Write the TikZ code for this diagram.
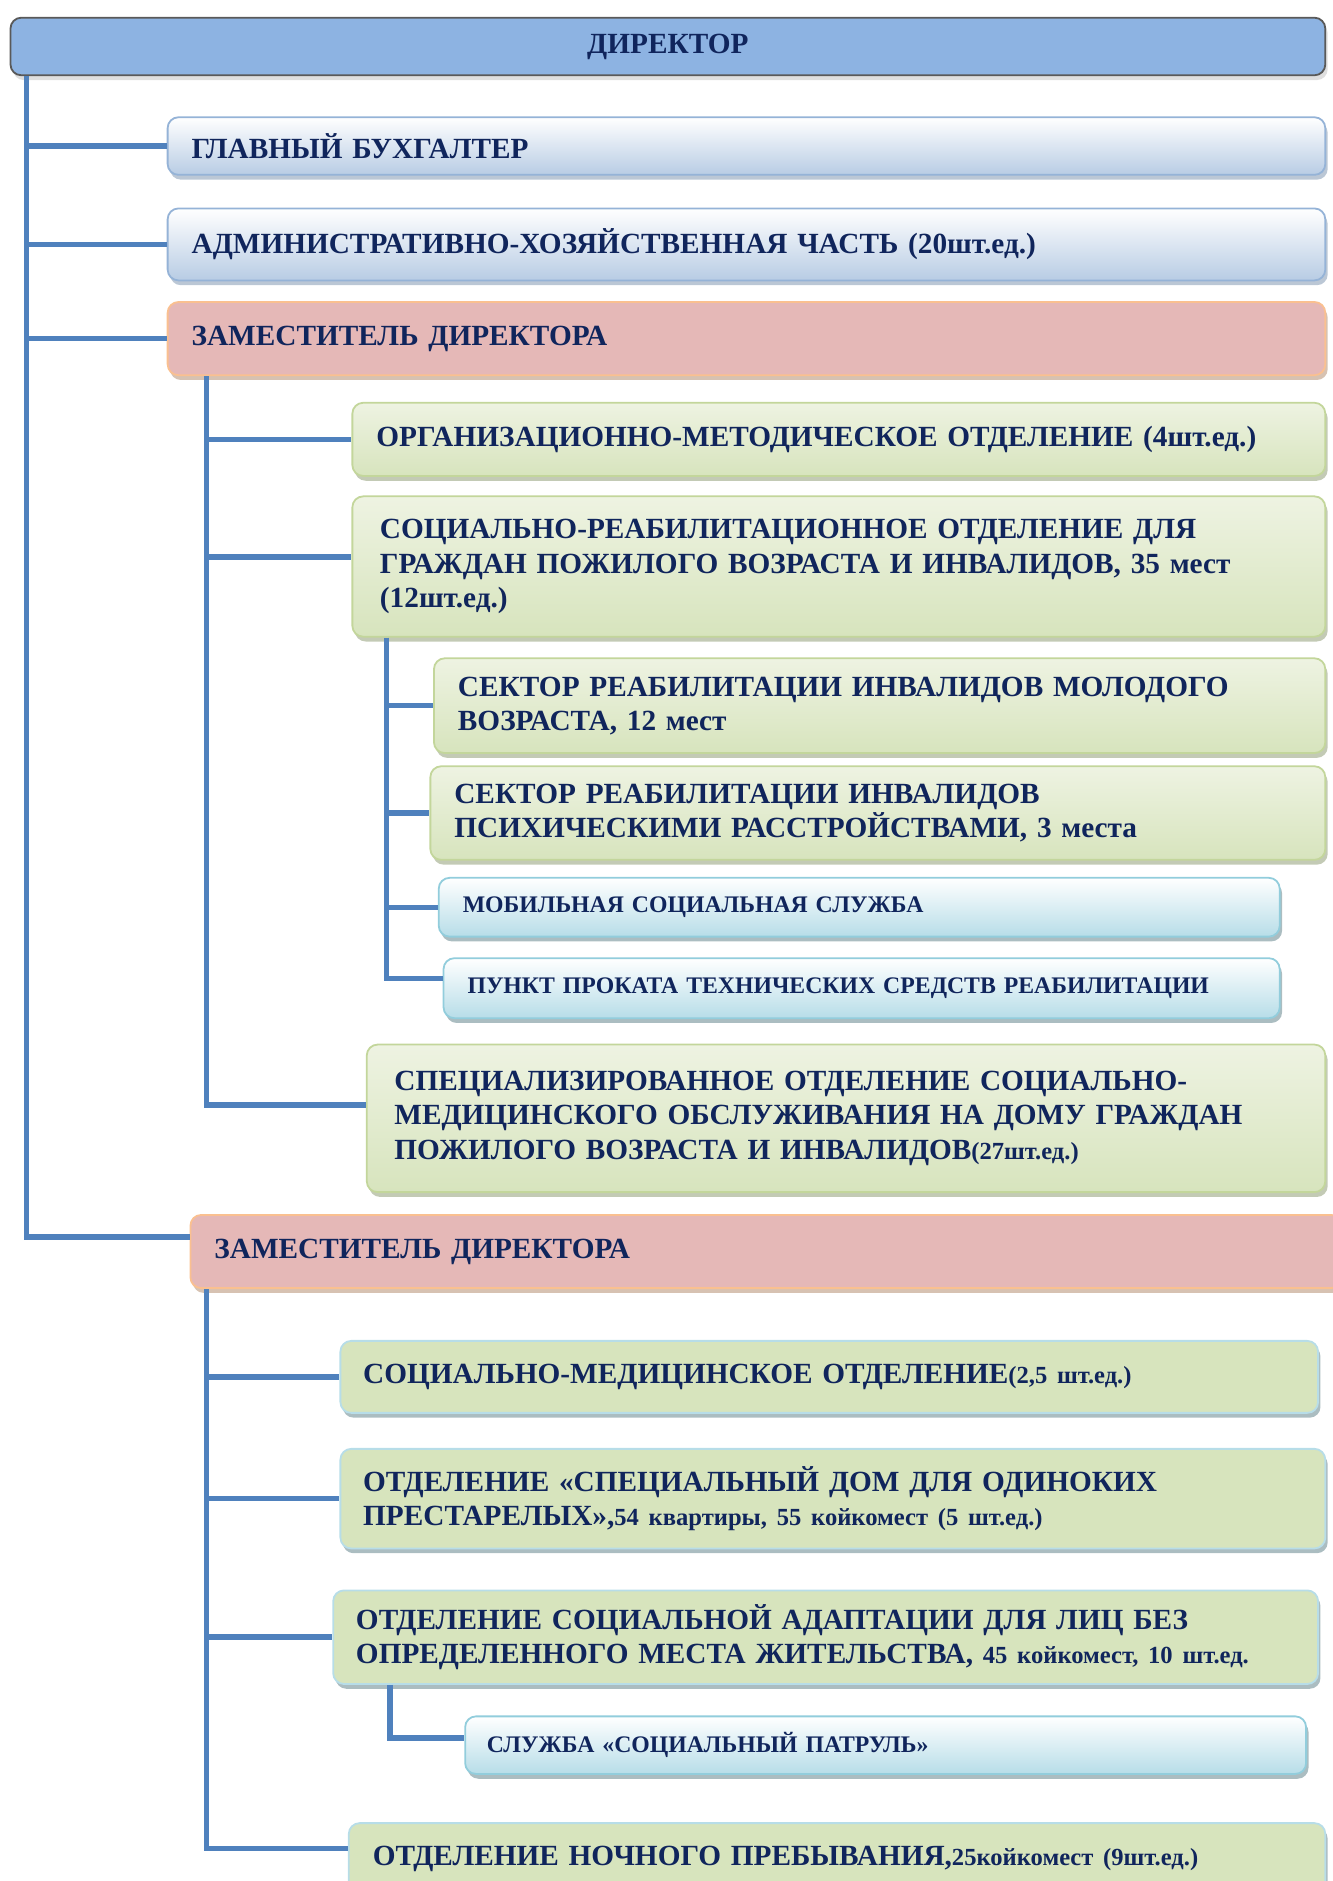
\documentclass[tikz,border=0pt]{standalone}
\usepackage{fontspec}
\setmainfont{Liberation Serif}
\usetikzlibrary{shadows}

\definecolor{navy}{RGB}{16,37,92}
\definecolor{linkblue}{RGB}{79,129,189}
\definecolor{dirfill}{RGB}{141,179,226}
\definecolor{dirdraw}{RGB}{89,89,89}
\definecolor{bluebot}{RGB}{184,204,228}
\definecolor{blueline}{RGB}{149,179,215}
\definecolor{pinkfill}{RGB}{229,184,183}
\definecolor{orangeline}{RGB}{250,192,144}
\definecolor{greenfill}{RGB}{215,228,189}
\definecolor{greentop}{RGB}{238,243,226}
\definecolor{greenline}{RGB}{195,214,155}
\definecolor{aquabot}{RGB}{183,221,232}
\definecolor{aqualine}{RGB}{146,205,220}

\newcommand{\smtxt}[1]{{\fontsize{20.5}{28}\selectfont #1}}

\begin{document}
\begin{tikzpicture}[x=1pt,y=-1pt,
  unit/.style={rectangle,rounded corners=9pt,anchor=north west,align=left,
    inner xsep=20pt,text=navy,line width=1.5pt,
    font=\fontsize{24.4}{28.5}\selectfont\bfseries},
  dirbox/.style={unit,align=center,fill=dirfill,draw=dirdraw,
    drop shadow={shadow xshift=2pt,shadow yshift=-4pt,fill=black!25}},
  bluebox/.style={unit,top color=white,bottom color=bluebot,draw=blueline,
    drop shadow={shadow xshift=2pt,shadow yshift=-4pt,fill=blueline!80!black}},
  depbox/.style={unit,fill=pinkfill,draw=orangeline,
    drop shadow={shadow xshift=2pt,shadow yshift=-4pt,fill=orangeline!70!black}},
  greenbox/.style={unit,top color=greentop,bottom color=greenfill,draw=greenline,
    drop shadow={shadow xshift=2pt,shadow yshift=-4pt,fill=greenline!70!black}},
  flatbox/.style={unit,fill=greenfill,draw=aquabot,
    drop shadow={shadow xshift=2pt,shadow yshift=-4pt,fill=aqualine!60!black}},
  aquabox/.style={unit,top color=white,bottom color=aquabot,draw=aqualine,
    font=\fontsize{19.8}{24}\selectfont\bfseries,
    drop shadow={shadow xshift=2pt,shadow yshift=-4pt,fill=aqualine!60!black}},
  link/.style={draw=linkblue,line width=4.5pt}]

\useasboundingbox (0,0) rectangle (1111,1568);

\node[dirbox,minimum width=1096pt,text width=1056pt,minimum height=48pt] (dir) at (8,14) {ДИРЕКТОР};
\node[bluebox,minimum width=965pt,text width=925pt,minimum height=48pt] (acc) at (139,97) {ГЛАВНЫЙ БУХГАЛТЕР};
\node[bluebox,minimum width=965pt,text width=925pt,minimum height=60pt] (ahc) at (139,173) {АДМИНИСТРАТИВНО-ХОЗЯЙСТВЕННАЯ ЧАСТЬ (20шт.ед.)};
\node[depbox,minimum width=965pt,text width=925pt,minimum height=61pt] (dep1) at (139,251) {ЗАМЕСТИТЕЛЬ ДИРЕКТОРА};

\node[greenbox,minimum width=811pt,text width=771pt,minimum height=61pt] (omo) at (293,335) {ОРГАНИЗАЦИОННО-МЕТОДИЧЕСКОЕ ОТДЕЛЕНИЕ (4шт.ед.)};
\node[greenbox,minimum width=811pt,text width=765pt,minimum height=117pt,inner xsep=23pt] (sro) at (293,413) {СОЦИАЛЬНО-РЕАБИЛИТАЦИОННОЕ ОТДЕЛЕНИЕ ДЛЯ\\ГРАЖДАН ПОЖИЛОГО ВОЗРАСТА И ИНВАЛИДОВ, 35 мест\\(12шт.ед.)};
\node[greenbox,minimum width=743pt,text width=703pt,minimum height=79pt] (young) at (361,548) {СЕКТОР РЕАБИЛИТАЦИИ ИНВАЛИДОВ МОЛОДОГО\\ВОЗРАСТА, 12 мест};
\node[greenbox,minimum width=746pt,text width=706pt,minimum height=78pt] (psych) at (358,638) {СЕКТОР РЕАБИЛИТАЦИИ ИНВАЛИДОВ\\ПСИХИЧЕСКИМИ РАССТРОЙСТВАМИ, 3 места};
\node[aquabox,minimum width=701pt,text width=661pt,minimum height=49pt] (mob) at (365,731) {МОБИЛЬНАЯ СОЦИАЛЬНАЯ СЛУЖБА};
\node[aquabox,minimum width=697pt,text width=657pt,minimum height=50pt] (rent) at (369,798) {ПУНКТ ПРОКАТА ТЕХНИЧЕСКИХ СРЕДСТВ РЕАБИЛИТАЦИИ};
\node[greenbox,minimum width=799pt,text width=753pt,minimum height=123pt,inner xsep=23pt] (spec) at (305,870) {СПЕЦИАЛИЗИРОВАННОЕ ОТДЕЛЕНИЕ СОЦИАЛЬНО-\\МЕДИЦИНСКОГО ОБСЛУЖИВАНИЯ НА ДОМУ ГРАЖДАН\\ПОЖИЛОГО ВОЗРАСТА И ИНВАЛИДОВ\smtxt{(27шт.ед.)}};

\node[depbox,minimum width=960pt,text width=920pt,minimum height=61pt] (dep2) at (158,1012) {ЗАМЕСТИТЕЛЬ ДИРЕКТОРА};
\node[flatbox,minimum width=815pt,text width=777pt,minimum height=60pt,inner xsep=19pt] (smo) at (283,1117) {СОЦИАЛЬНО-МЕДИЦИНСКОЕ ОТДЕЛЕНИЕ\smtxt{(2,5 шт.ед.)}};
\node[flatbox,minimum width=821pt,text width=783pt,minimum height=83pt,inner xsep=19pt] (home) at (283,1207) {ОТДЕЛЕНИЕ «СПЕЦИАЛЬНЫЙ ДОМ ДЛЯ ОДИНОКИХ\\ПРЕСТАРЕЛЫХ»,\smtxt{54 квартиры, 55 койкомест (5 шт.ед.)}};
\node[flatbox,minimum width=821pt,text width=783pt,minimum height=78pt,inner xsep=19pt] (adapt) at (277,1325) {ОТДЕЛЕНИЕ СОЦИАЛЬНОЙ АДАПТАЦИИ ДЛЯ ЛИЦ БЕЗ\\ОПРЕДЕЛЕННОГО МЕСТА ЖИТЕЛЬСТВА, \smtxt{45 койкомест, 10 шт.ед.}};
\node[aquabox,minimum width=701pt,text width=665pt,minimum height=48pt,inner xsep=18pt] (patrol) at (387,1430) {СЛУЖБА «СОЦИАЛЬНЫЙ ПАТРУЛЬ»};
\node[flatbox,minimum width=814pt,text width=774pt,minimum height=60pt] (night) at (290,1519) {ОТДЕЛЕНИЕ НОЧНОГО ПРЕБЫВАНИЯ,\smtxt{25койкомест (9шт.ед.)}};

% director
\coordinate (t0) at ([xshift=14pt]dir.south west);
\draw[link] (t0) |- ([yshift=12pt]dep2.west);
\foreach \n in {acc,ahc,dep1}
  \draw[link] (t0|-\n.west) -- (\n.west);

% first deputy
\coordinate (t1) at ([xshift=33pt]dep1.south west);
\draw[link] (t1) |- ([yshift=11pt]spec.west);
\draw[link] (t1|-omo.west) -- (omo.west);
\draw[link] (t1|-sro.west) ++(0,-8) -- ([yshift=8pt]sro.west);

\coordinate (t2) at ([xshift=29pt]sro.south west);
\draw[link] (t2) |- ([yshift=8pt]rent.west);
\foreach \n in {young,psych,mob}
  \draw[link] (t2|-\n.west) -- (\n.west);

% second deputy
\coordinate (t3) at ([xshift=14pt]dep2.south west);
\draw[link] (t3) |- ([yshift=9pt]night.west);
\foreach \n in {smo,home,adapt}
  \draw[link] (t3|-\n.west) -- (\n.west);

\coordinate (t4) at ([xshift=48pt]adapt.south west);
\draw[link] (t4) |- ([yshift=6pt]patrol.west);
\end{tikzpicture}
\end{document}
